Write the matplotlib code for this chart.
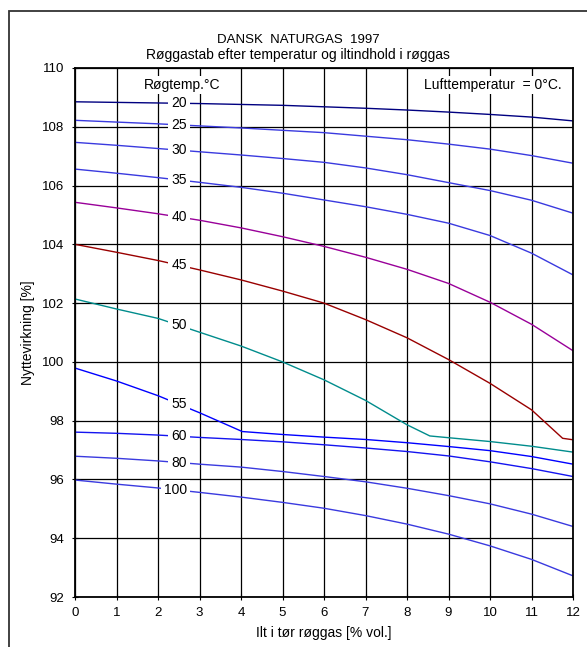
import matplotlib.pyplot as plt
from matplotlib.patches import Rectangle
import numpy as np

plt.rcParams["font.family"] = ["Liberation Sans", "DejaVu Sans"]

# oxygen in dry flue gas [% vol.]
X_INT = list(range(13))

# efficiency [%] per flue gas temperature
EFF_20 = [108.85, 108.83, 108.81, 108.79, 108.76, 108.73, 108.68, 108.63, 108.57, 108.50, 108.42, 108.33, 108.20]
EFF_25 = [108.22, 108.16, 108.10, 108.03, 107.96, 107.88, 107.80, 107.68, 107.56, 107.41, 107.24, 107.02, 106.76]
EFF_30 = [107.47, 107.37, 107.26, 107.15, 107.04, 106.92, 106.79, 106.60, 106.37, 106.10, 105.83, 105.50, 105.06]
EFF_35 = [106.56, 106.42, 106.27, 106.11, 105.94, 105.74, 105.51, 105.28, 105.02, 104.72, 104.30, 103.70, 102.96]
EFF_40 = [105.43, 105.24, 105.04, 104.82, 104.56, 104.26, 103.93, 103.56, 103.15, 102.67, 102.03, 101.28, 100.38]
X_45 = [0, 1, 2, 3, 4, 5, 6, 7, 8, 9, 10, 11, 11.75, 12]
EFF_45 = [104.00, 103.73, 103.45, 103.13, 102.79, 102.41, 102.00, 101.44, 100.82, 100.08, 99.27, 98.37, 97.40, 97.35]
X_50 = [0, 1, 2, 3, 4, 5, 6, 7, 8, 8.55, 9, 10, 11, 12]
EFF_50 = [102.14, 101.80, 101.48, 101.01, 100.54, 100.00, 99.39, 98.69, 97.86, 97.48, 97.42, 97.29, 97.13, 96.93]
X_55 = [0, 1, 2, 3, 4.03, 5, 6, 7, 8, 9, 10, 11, 12]
EFF_55 = [99.79, 99.35, 98.85, 98.27, 97.63, 97.53, 97.44, 97.36, 97.25, 97.12, 96.98, 96.78, 96.52]
EFF_60 = [97.61, 97.57, 97.51, 97.43, 97.36, 97.28, 97.18, 97.07, 96.95, 96.80, 96.60, 96.37, 96.10]
EFF_80 = [96.79, 96.72, 96.63, 96.52, 96.42, 96.27, 96.10, 95.92, 95.70, 95.45, 95.17, 94.82, 94.40]
EFF_100 = [95.98, 95.84, 95.71, 95.56, 95.40, 95.22, 95.02, 94.77, 94.48, 94.14, 93.74, 93.28, 92.72]

TEMPS = ["20", "25", "30", "35", "40", "45", "50", "55", "60", "80", "100"]
XS = [X_INT, X_INT, X_INT, X_INT, X_INT, X_45, X_50, X_55, X_INT, X_INT, X_INT]
YS = [EFF_20, EFF_25, EFF_30, EFF_35, EFF_40, EFF_45, EFF_50, EFF_55, EFF_60, EFF_80, EFF_100]
COLORS = ["#000080", "#3a3adf", "#3a3adf", "#3a3adf", "#990099", "#990000",
          "#008c8c", "#0000ff", "#1414f0", "#3a3adf", "#3a3adf"]

fig = plt.figure(figsize=(5.87, 6.47), dpi=100)
ax = fig.add_axes([75 / 587, 1 - 597 / 647, 498 / 587, 529 / 647])

# outer frame (runs off right/bottom edge like the original)
fig.patches.append(Rectangle((9 / 587, -0.05), 1.1, 1 - 11 / 647 + 0.05,
                             transform=fig.transFigure, fill=False,
                             edgecolor="#333333", linewidth=1.3))

for x, y, c in zip(XS, YS, COLORS):
    ax.plot(x, y, color=c, linewidth=1.0, zorder=2)

# temperature labels sitting in a gap of each curve
lab_x = 2.70
for t, x, y in zip(TEMPS, XS, YS):
    yv = np.interp(2.5, x, y)
    ax.text(lab_x, yv, t, ha="right", va="center", fontsize=10, zorder=4,
            bbox=dict(facecolor="white", edgecolor="none", pad=2.2))

ax.text(2.58, 109.42, "Røgtemp.°C", ha="center", va="center", fontsize=10, zorder=4,
        bbox=dict(facecolor="white", edgecolor="none", pad=1.5))
ax.text(11.72, 109.42, "Lufttemperatur  = 0°C.", ha="right", va="center", fontsize=10, zorder=4,
        bbox=dict(facecolor="white", edgecolor="none", pad=1.5))

ax.set_xlim(0, 12)
ax.set_ylim(92, 110)
ax.set_xticks(range(0, 13))
ax.set_yticks(range(92, 111, 2))
ax.grid(True, color="black", linewidth=0.9, zorder=1)
ax.set_axisbelow(True)
ax.tick_params(direction="inout", length=5, width=0.8, labelsize=9.5, pad=5)
for s in ax.spines.values():
    s.set_linewidth(1.3)

ax.set_xlabel("Ilt i tør røggas [% vol.]", fontsize=10, labelpad=5)
ax.set_ylabel("Nyttevirkning [%]", fontsize=10, labelpad=5)

fig.text(0.508, 1 - 40 / 647, "DANSK  NATURGAS  1997", ha="center", va="center", fontsize=9.5)
fig.text(0.508, 1 - 55 / 647, "Røggastab efter temperatur og iltindhold i røggas",
         ha="center", va="center", fontsize=10)

fig.savefig("out.png", dpi=100)
